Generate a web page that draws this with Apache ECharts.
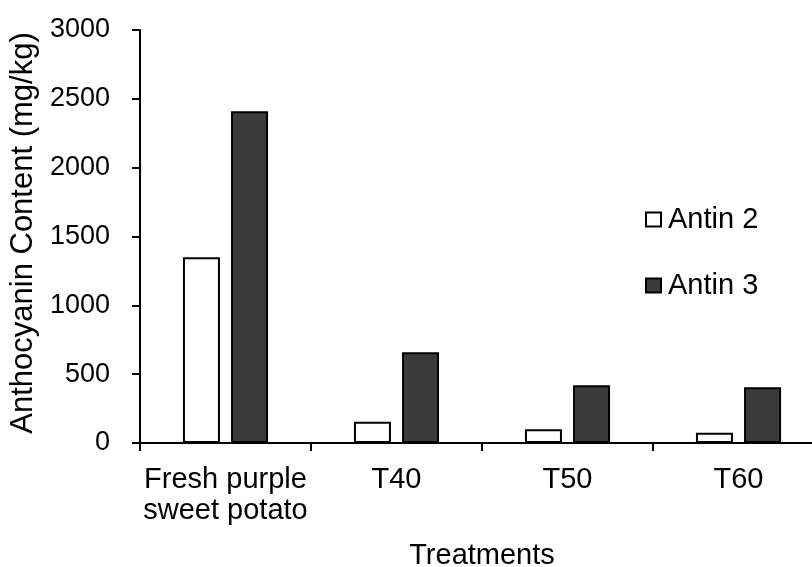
<!DOCTYPE html>
<html><head><meta charset="utf-8">
<script src="https://cdn.jsdelivr.net/npm/echarts@6/dist/echarts.min.js"></script>
<style>html,body{margin:0;padding:0;background:#fff}#c{width:812px;height:567px}</style>
</head><body><div id="c"></div>
<script>
const categories = ['Fresh purple\nsweet potato', 'T40', 'T50', 'T60'];
const antin2 = [1350, 155, 100, 75];
const antin3 = [2410, 660, 420, 405];
const yTicks = [0, 500, 1000, 1500, 2000, 2500, 3000];
const font = 'Liberation Sans, Arial, sans-serif';
const chart = echarts.init(document.getElementById('c'));
chart.setOption({
  animation: false,
  grid: {left: 140, top: 30, width: 684, height: 413, containLabel: false, outerBoundsMode: 'none'},
  legend: {
    orient: 'vertical', left: 640, top: 200, itemGap: 37,
    itemWidth: 15, itemHeight: 14,
    textStyle: {fontFamily: font, fontSize: 29, color: '#000', padding: [0,0,0,2]},
    data: [{name: 'Antin 2', icon: 'rect'}, {name: 'Antin 3', icon: 'rect'}]
  },
  xAxis: {
    type: 'category', data: categories,
    name: 'Treatments', nameLocation: 'middle', nameGap: 98,
    nameTextStyle: {fontFamily: font, fontSize: 29, color: '#000'},
    axisLine: {lineStyle: {color: '#000', width: 2}},
    axisTick: {show: true, length: 8, lineStyle: {color: '#000', width: 2}},
    axisLabel: {interval: 0, fontFamily: font, fontSize: 29, color: '#000', margin: 21, lineHeight: 31},
  },
  yAxis: {
    type: 'value', min: 0, max: 3000, interval: 500,
    name: 'Anthocyanin Content (mg/kg)', nameLocation: 'middle', nameGap: 94,
    nameTextStyle: {fontFamily: font, fontSize: 31, color: '#000', padding: [0,0,0,7]},
    axisLine: {show: true, lineStyle: {color: '#000', width: 2}},
    axisTick: {show: true, length: 8, lineStyle: {color: '#000', width: 2}},
    axisLabel: {fontFamily: font, fontSize: 27, color: '#000', margin: 30,
      formatter: v => yTicks.includes(v) ? String(v) : ''},
    splitLine: {show: false}
  },
  series: [
    {name: 'Antin 2', type: 'bar', data: antin2, barWidth: 37, barGap: '30%',
     itemStyle: {color: '#ffffff', borderColor: '#000', borderWidth: 2}},
    {name: 'Antin 3', type: 'bar', data: antin3, barWidth: 37,
     itemStyle: {color: '#3b3b3b', borderColor: '#000', borderWidth: 2}}
  ]
});
</script></body></html>
